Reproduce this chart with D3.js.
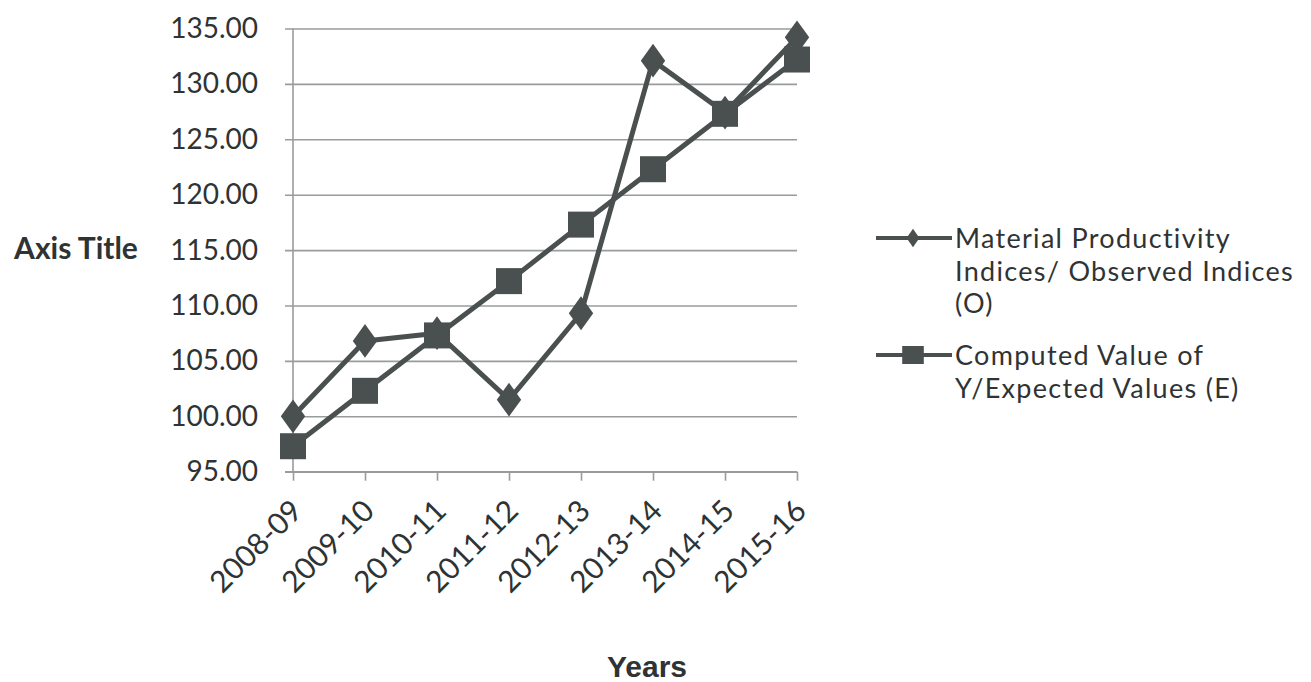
<!DOCTYPE html>
<html>
<head>
<meta charset="utf-8">
<script src="https://cdn.jsdelivr.net/npm/d3@7"></script>
<style>
  html, body { margin: 0; padding: 0; background: #ffffff; }
  svg { display: block; }
</style>
</head>
<body>
<svg id="chart" width="1311" height="682"></svg>
<script>
// Financial years on the category axis
const years = ["2008-09", "2009-10", "2010-11", "2011-12", "2012-13", "2013-14", "2014-15", "2015-16"];
// Material productivity indices (observed)
const observed = [100.0, 106.8, 107.5, 101.5, 109.3, 132.1, 127.4, 134.2];
// Computed value of Y (expected)
const expected = [97.3, 102.3, 107.3, 112.2, 117.3, 122.3, 127.3, 132.2];
// Value axis ticks
const yTicks = [95, 100, 105, 110, 115, 120, 125, 130, 135];
const seriesNames = [
  ["Material Productivity", "Indices/ Observed Indices", "(O)"],
  ["Computed Value of", "Y/Expected Values (E)"]
];

const svg = d3.select("#chart");
const ink = "#4a504f";
const textInk = "#2f3333";
const gridInk = "#999c9c";

const x = d3.scalePoint().domain(years).range([293, 797]);
const y = d3.scaleLinear().domain([95, 135]).range([471.7, 28.5]);

// horizontal gridlines with outward ticks on the left
const yAxis = d3.axisLeft(y).tickValues(yTicks).tickFormat(d3.format(".2f"))
  .tickSize(-(797 - 285)).tickPadding(27);
const gy = svg.append("g").attr("transform", "translate(285,0)").call(yAxis);
gy.select(".domain").remove();
gy.selectAll(".tick line").attr("stroke", gridInk).attr("stroke-width", 1.6);
gy.selectAll(".tick text")
  .attr("fill", textInk)
  .style("font-family", "Lato, 'Open Sans', sans-serif")
  .style("font-size", "28px");

// vertical value-axis line
svg.append("line")
  .attr("x1", x(years[0])).attr("x2", x(years[0]))
  .attr("y1", y(135)).attr("y2", y(95))
  .attr("stroke", gridInk).attr("stroke-width", 1.6);

// category axis
const xAxis = d3.axisBottom(x).tickSize(9).tickSizeOuter(0).tickFormat("");
const gx = svg.append("g").attr("transform", `translate(0,${y(95)})`).call(xAxis);
gx.select(".domain").attr("stroke", gridInk).attr("stroke-width", 1.6)
  .attr("d", `M285,0H797`);
gx.selectAll(".tick line").attr("stroke", gridInk).attr("stroke-width", 1.6);

// rotated category labels
svg.append("g").selectAll("text").data(years).join("text")
  .attr("transform", d => `translate(${x(d) + 11},${y(95) + 41}) rotate(-45)`)
  .attr("text-anchor", "end")
  .attr("fill", textInk)
  .style("font-family", "Lato, 'Open Sans', sans-serif")
  .style("font-size", "30px")
  .text(d => d);

// series lines
const line = d3.line().x((d, i) => x(years[i])).y(d => y(d));
svg.append("path").datum(expected).attr("d", line)
  .attr("fill", "none").attr("stroke", ink).attr("stroke-width", 5).attr("stroke-linejoin", "round");
svg.append("path").datum(observed).attr("d", line)
  .attr("fill", "none").attr("stroke", ink).attr("stroke-width", 5).attr("stroke-linejoin", "round");

// markers
const square = d3.symbol().type(d3.symbolSquare).size(26 * 26);
const diamond = d3.symbol().type(d3.symbolDiamond).size(330);
svg.append("g").selectAll("path").data(expected).join("path")
  .attr("transform", (d, i) => `translate(${x(years[i])},${y(d)})`)
  .attr("d", square).attr("fill", ink);
svg.append("g").selectAll("path").data(observed).join("path")
  .attr("transform", (d, i) => `translate(${x(years[i])},${y(d)}) scale(1.25,1)`)
  .attr("d", diamond).attr("fill", ink);

// legend
const legend = svg.append("g");
const legendRows = [238, 355];
const legendMarkers = [d3.symbol().type(d3.symbolDiamond).size(100), d3.symbol().type(d3.symbolSquare).size(18 * 18)];
seriesNames.forEach((lines, k) => {
  const ly = legendRows[k];
  legend.append("line").attr("x1", 876).attr("x2", 952).attr("y1", ly).attr("y2", ly)
    .attr("stroke", ink).attr("stroke-width", 4);
  legend.append("path").attr("transform", `translate(913,${ly}) scale(1.2,1)`).attr("d", legendMarkers[k]).attr("fill", ink);
  legend.append("g").selectAll("text").data(lines).join("text")
    .attr("x", 955)
    .attr("y", (d, i) => ly + 10 + i * 32.5)
    .attr("fill", textInk)
    .style("font-family", "Lato, 'Open Sans', sans-serif")
    .style("font-size", "27px")
    .style("letter-spacing", "1.3px")
    .text(d => d);
});

// axis titles
svg.append("text").attr("x", 76).attr("y", 259).attr("text-anchor", "middle")
  .attr("fill", textInk)
  .style("font-family", "Lato, 'Open Sans', sans-serif")
  .style("font-weight", "bold").style("font-size", "30px")
  .text("Axis Title");
svg.append("text").attr("x", 647).attr("y", 677).attr("text-anchor", "middle")
  .attr("fill", textInk)
  .style("font-family", "'Liberation Sans', Arial, sans-serif")
  .style("font-weight", "bold").style("font-size", "30px")
  .text("Years");
</script>
</body>
</html>
